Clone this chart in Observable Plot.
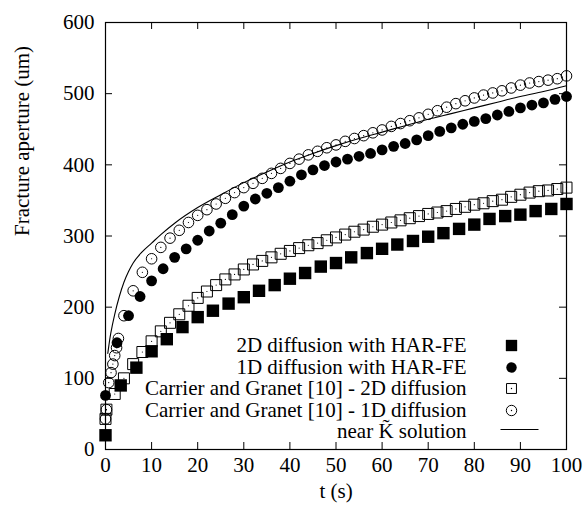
<!DOCTYPE html>
<html><head><meta charset="utf-8">
<script src="https://cdn.jsdelivr.net/npm/d3@7"></script>
<script src="https://cdn.jsdelivr.net/npm/@observablehq/plot@0.6"></script>
<style>body{margin:0;background:#fff;}</style>
</head><body><div id="chart"></div>
<script>
// ---- data ----
const xTicks = [0,10,20,30,40,50,60,70,80,90,100];
const yTicks = [0,100,200,300,400,500,600];

// 2D diffusion with HAR-FE (filled squares)
const tHar2D = [0,3.3,6.7,10,13.3,16.7,20,23.3,26.7,30,33.3,36.7,40,43.3,46.7,50,53.3,56.7,60,63.3,66.7,70,73.3,76.7,80,83.3,86.7,90,93.3,96.7,100];
const wHar2D = [20,90,115,138,155,172,186,195,205,214,223,231,240,248,257,262,270,276,282,288,293,299,304,310,316,324,328,330,335,338,345];

// 1D diffusion with HAR-FE (filled circles)
const tHar1D = [0,2.5,5,7.5,10,12.5,15,17.5,20,22.5,25,27.5,30,32.5,35,37.5,40,42.5,45,47.5,50,52.5,55,57.5,60,62.5,65,67.5,70,72.5,75,77.5,80,82.5,85,87.5,90,92.5,95,97.5,100];
const wHar1D = [76,150,188,215,237,254,270,282,294,307,318,330,342,352,360,368,377,386,393,399,404,408,412,416,421,426,430,435,441,447,452,457,461,465,470,475,480,484,487,492,496];

// Carrier and Granet [10] - 2D diffusion (open squares)
const tCg2D = [0,0.2,2,4,6,8,10,12,14,16,18,20,22,24,26,28,30,32,34,36,38,40,42,44,46,48,50,52,54,56,58,60,62,64,66,68,70,72,74,76,78,80,82,84,86,88,90,92,94,96,98,100];
const wCg2D = [43,56,78,100,120,137,152,166,178,190,202,213,222,231,239,246,253,260,265,270,275,279,283,287,290,294,298,302,306,309,313,316,319,322,325,328,331,333,335,338,341,344,346,349,351,355,358,361,363,364,366,368];

// Carrier and Granet [10] - 1D diffusion (open circles)
const tCg1D = [0,0.2,0.7,1.2,1.6,2.0,2.4,2.8,4,6,8,10,12,14,16,18,20,22,24,26,28,30,32,34,36,38,40,42,44,46,48,50,52,54,56,58,60,62,64,66,68,70,72,74,76,78,80,82,84,86,88,90,92,94,96,98,100];
const wCg1D = [43,56,94,108,120,132,143,156,188,223,249,268,284,297,308,319,329,337,345,353,361,368,374,381,388,395,402,408,414,419,424,428,433,437,441,445,449,454,458,462,466,471,476,481,486,490,494,498,501,504,508,512,515,517,519,521,525];

// near K~ solution (line)
const tNearK = [0.5,1,1.5,2,3,4,5,6,8,10,12,15,20,25,30,35,40,45,50,55,60,65,70,75,80,85,90,95,100];
const wNearK = [135,158,175,190,215,235,250,262,278,290,302,318,340,358,375,390,404,416,427,437,446,455,464,472,480,488,496,503,511];

const legendLabels = [
  "2D diffusion with HAR-FE",
  "1D diffusion with HAR-FE",
  "Carrier and Granet [10] - 2D diffusion",
  "Carrier and Granet [10] - 1D diffusion",
  "near K\u0303 solution"
];

// ---- build tables ----
const zip = (ts, ws) => ts.map((t, i) => ({t, w: ws[i]}));
const har2D = zip(tHar2D, wHar2D);
const har1D = zip(tHar1D, wHar1D);
const cg2D = zip(tCg2D, wCg2D);
const cg1D = zip(tCg1D, wCg1D);
const nearK = zip(tNearK, wNearK);

const W = 585, H = 510, mL = 105, mR = 19, mT = 22, mB = 61;
const iW = W - mL - mR, iH = H - mT - mB;
const TL = 7; // inward tick length
const FF = "Liberation Serif";
const FS = 21;

const lineSymbol = {draw(ctx) { ctx.moveTo(-19, 0); ctx.lineTo(19, 0); }};

const rowDy = [-104, -82, -61, -39, -18];
const legendMarks = [];
legendLabels.forEach((lab, i) => {
  legendMarks.push(Plot.text([lab], {frameAnchor: "bottom-right", dx: -100, dy: rowDy[i], textAnchor: "end", lineAnchor: "middle", fill: "black", fontFamily: FF, fontSize: FS}));
});
legendMarks.push(Plot.dot([0], {frameAnchor: "bottom-right", dx: -55, dy: rowDy[0], symbol: "square", fill: "black", r: 6.4}));
legendMarks.push(Plot.dot([0], {frameAnchor: "bottom-right", dx: -55, dy: rowDy[1], symbol: "circle", fill: "black", r: 5.2}));
legendMarks.push(Plot.dot([0], {frameAnchor: "bottom-right", dx: -55, dy: rowDy[2], symbol: "square", fill: "white", stroke: "black", strokeWidth: 1, r: 5.6}));
legendMarks.push(Plot.dot([0], {frameAnchor: "bottom-right", dx: -55, dy: rowDy[2], symbol: "circle", fill: "black", r: 0.7}));
legendMarks.push(Plot.dot([0], {frameAnchor: "bottom-right", dx: -55, dy: rowDy[3], symbol: "circle", fill: "white", stroke: "black", strokeWidth: 1, r: 5.2}));
legendMarks.push(Plot.dot([0], {frameAnchor: "bottom-right", dx: -55, dy: rowDy[3], symbol: "circle", fill: "black", r: 0.7}));
legendMarks.push(Plot.dot([0], {frameAnchor: "bottom-right", dx: -47, dy: rowDy[4] - 2, symbol: lineSymbol, stroke: "black", strokeWidth: 1, r: 1}));

const chart = Plot.plot({
  width: W, height: H,
  marginLeft: mL, marginRight: mR, marginTop: mT, marginBottom: mB,
  style: {fontFamily: FF, fontSize: FS + "px", background: "white", color: "black"},
  x: {domain: [0, 100]},
  y: {domain: [0, 600]},
  marks: [
    Plot.axisX({ticks: xTicks, tickSize: 0, tickPadding: 8, label: null, tickFormat: d => d, fontFamily: FF, fontSize: FS}),
    Plot.axisY({ticks: yTicks, tickSize: 0, tickPadding: 11, label: null, tickFormat: d => d, fontFamily: FF, fontSize: FS}),
    Plot.tickX(xTicks, {x: d => d, insetTop: iH - TL, stroke: "black"}),
    Plot.tickX(xTicks, {x: d => d, insetBottom: iH - TL, stroke: "black"}),
    Plot.tickY(yTicks, {y: d => d, insetRight: iW - TL, stroke: "black"}),
    Plot.tickY(yTicks, {y: d => d, insetLeft: iW - TL, stroke: "black"}),
    // series
    Plot.dot(har2D, {x: "t", y: "w", symbol: "square", fill: "black", r: 7}),
    Plot.dot(har1D, {x: "t", y: "w", symbol: "circle", fill: "black", r: 5.4}),
    Plot.dot(cg2D, {x: "t", y: "w", symbol: "square", fill: "none", stroke: "black", strokeWidth: 1, r: 6.2}),
    Plot.dot(cg2D, {x: "t", y: "w", symbol: "circle", fill: "black", r: 0.6}),
    Plot.dot(cg1D, {x: "t", y: "w", symbol: "circle", fill: "none", stroke: "black", strokeWidth: 1, r: 5.3}),
    Plot.dot(cg1D, {x: "t", y: "w", symbol: "circle", fill: "black", r: 0.6}),
    Plot.line(nearK, {x: "t", y: "w", stroke: "black", strokeWidth: 1.1, curve: "monotone-x"}),
    ...legendMarks,
    Plot.text(["t (s)"], {frameAnchor: "bottom", dy: 48, fill: "black", fontFamily: FF, fontSize: FS}),
    Plot.text(["Fracture aperture (um)"], {frameAnchor: "left", dx: -83, rotate: -90, fill: "black", fontFamily: FF, fontSize: FS}),
    Plot.frame({stroke: "black", strokeWidth: 1.2})
  ]
});
document.getElementById("chart").appendChild(chart);
</script>
</body></html>
